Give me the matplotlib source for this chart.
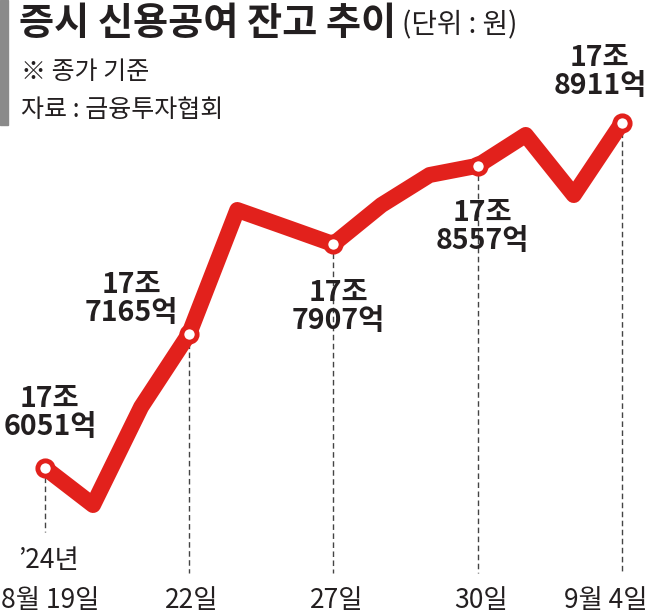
import matplotlib
matplotlib.use("Agg")
import matplotlib.pyplot as plt
from matplotlib.patches import Rectangle
import numpy as np

plt.rcParams['font.family'] = ['Noto Sans CJK KR', 'DejaVu Sans']

# ---- data (억원) ----
dates = ["8/19", "8/20", "8/21", "8/22", "8/23", "8/26", "8/27",
         "8/28", "8/29", "8/30", "9/2", "9/3", "9/4"]
values = [176051, 175744, 176557, 177165, 178190, 178049, 177907,
          178231, 178480, 178557, 178812, 178314, 178911]
label_idx = [0, 3, 6, 9, 12]
label_texts = ["17조\n6051억", "17조\n7165억", "17조\n7907억", "17조\n8557억", "17조\n8911억"]
tick_labels = ["8월 19일", "22일", "27일", "30일", "9월 4일"]

RED = '#E2211C'
W, H = 650, 615
fig = plt.figure(figsize=(W / 100, H / 100), dpi=100)
ax = fig.add_axes([0, 0, 1, 1])
ax.set_axis_off()

x = np.arange(len(values))
ax.set_xlim(-0.936, 12.586)
ylo, yhi = 174832, 179931
ax.set_ylim(ylo, yhi)

def frac_to_data(f):
    return ylo + f * (yhi - ylo)

# dashed guide lines
for k, i in enumerate(label_idx):
    bottom = frac_to_data(1 - 532 / H) if k == 0 else frac_to_data(1 - 573 / H)
    ax.plot([x[i], x[i]], [values[i], bottom], color='#444444', lw=1.0,
            linestyle=(0, (4, 2.5)), zorder=1)

# main line
ax.plot(x, values, color=RED, lw=11.5, solid_joinstyle='round',
        solid_capstyle='round', zorder=2)
ax.plot(x[label_idx], [values[i] for i in label_idx], linestyle='none',
        marker='o', markersize=11, markerfacecolor='white',
        markeredgecolor=RED, markeredgewidth=3.5, zorder=3)

# value labels
offsets = [(5, 55), (-58, 35), (5, -63), (5, -61), (-22, 51)]
for i, t, off in zip(label_idx, label_texts, offsets):
    ax.annotate(t, xy=(x[i], values[i]), xytext=off, textcoords='offset pixels',
                ha='center', va='center', multialignment='center',
                fontsize=20.5, fontweight='heavy', color='#231F20',
                linespacing=1.0, zorder=4)

# x tick labels
for k, (i, t) in enumerate(zip(label_idx, tick_labels)):
    if k == 0:
        ax.annotate(t, xy=(0, 1 - 600 / H), xycoords='axes fraction',
                    xytext=(1, 0), textcoords='offset pixels',
                    ha='left', va='center', fontsize=19, color='#231F20')
    elif k == len(label_idx) - 1:
        ax.annotate(t, xy=(1, 1 - 600 / H), xycoords='axes fraction',
                    xytext=(-3, 0), textcoords='offset pixels',
                    ha='right', va='center', fontsize=19, color='#231F20')
    else:
        ax.annotate(t, xy=(x[i], 1 - 600 / H), xycoords=('data', 'axes fraction'),
                    xytext=(3, 0), textcoords='offset pixels',
                    ha='center', va='center', fontsize=19, color='#231F20')
ax.annotate("’24년", xy=(x[0], 1 - 560 / H), xycoords=('data', 'axes fraction'),
            xytext=(4, 0), textcoords='offset pixels',
            ha='center', va='center', fontsize=19, color='#231F20')

# header
fig.patches.append(Rectangle((0, 1 - 125 / H), 8 / W, 125 / H,
                             transform=fig.transFigure, color='#8A8A8A'))
fig.text(19 / W, 1 - 24 / H, "증시 신용공여 잔고 추이", fontsize=27.5,
         fontweight='heavy', color='#231F20', ha='left', va='center')
fig.text(402 / W, 1 - 25 / H, "(단위 : 원)", fontsize=20,
         color='#231F20', ha='left', va='center')
fig.text(21 / W, 1 - 72 / H, "※ 종가 기준", fontsize=18,
         color='#231F20', ha='left', va='center')
fig.text(21 / W, 1 - 110 / H, "자료 : 금융투자협회", fontsize=18,
         color='#231F20', ha='left', va='center')

fig.savefig("out.png", dpi=100, facecolor='white')
